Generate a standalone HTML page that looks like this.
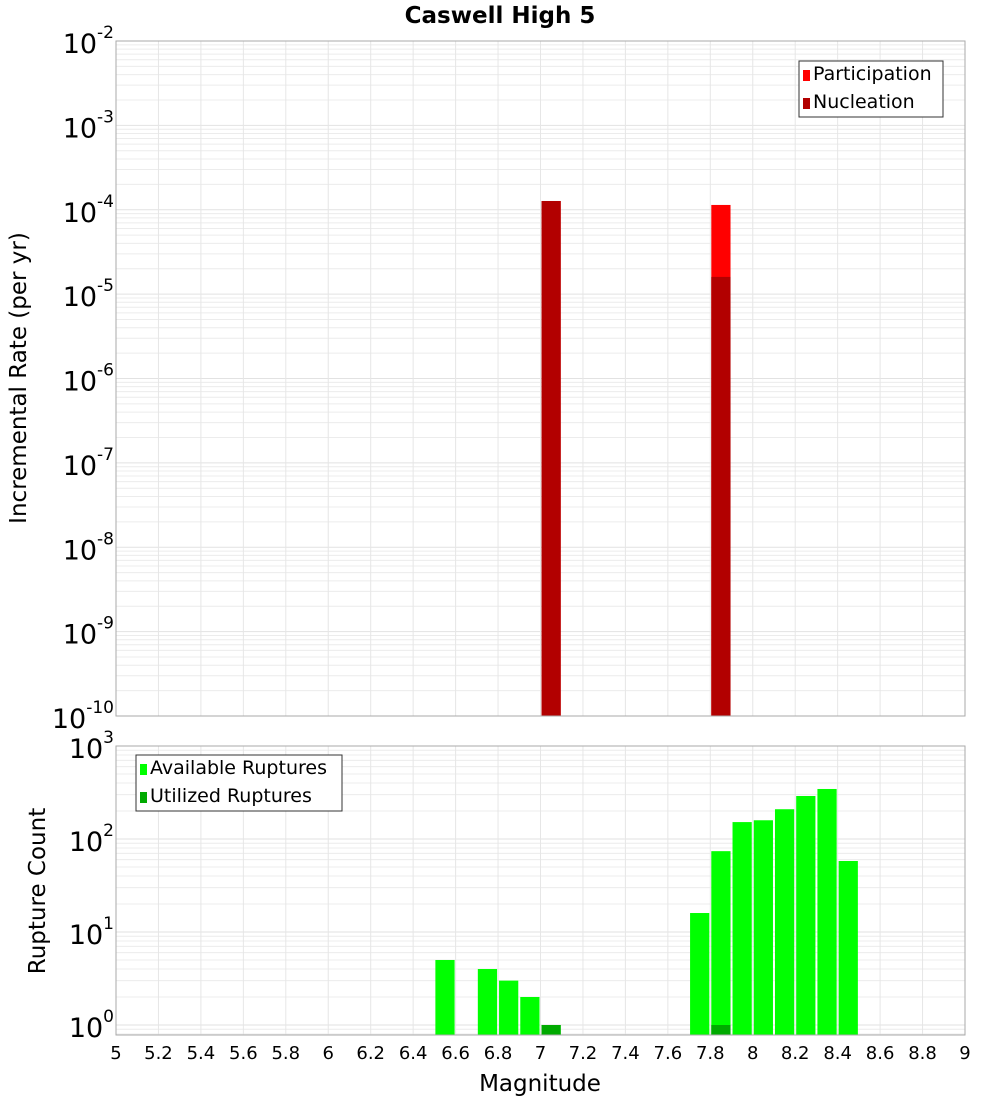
<!DOCTYPE html>
<html><head><meta charset="utf-8"><style>
body{margin:0;background:#fff;font-family:"Liberation Sans","DejaVu Sans",sans-serif;}
svg text{font-family:"DejaVu Sans","Liberation Sans",sans-serif;}
</style></head><body>
<svg id="c" width="1000" height="1100" xmlns="http://www.w3.org/2000/svg"></svg>
<script>
const magBins=[6.55,6.75,6.85,6.95,7.05,7.75,7.85,7.95,8.05,8.15,8.25,8.35,8.45];
const availCounts=[5,4,3,2,1,16,74,152,159,209,290,345,58];
const utilBins=[7.05,7.85];
const utilCounts=[1,1];
const rateBins=[7.05,7.85];
const participation=[1.27e-4,1.14e-4];
const nucleation=[1.27e-4,1.6e-5];
const xTicks=["5","5.2","5.4","5.6","5.8","6","6.2","6.4","6.6","6.8","7","7.2","7.4","7.6","7.8","8","8.2","8.4","8.6","8.8","9"];

const svg=document.getElementById('c');
const NS="http://www.w3.org/2000/svg";
function mk(t,a,p){const e=document.createElementNS(NS,t);for(const k in a)e.setAttribute(k,a[k]);(p||svg).appendChild(e);return e;}
const X0=116,X1=965;
function x(m){return X0+(m-5)/4*(X1-X0);}
const T0=41,T1=716;
function yT(v){return T0+(-2-Math.log10(v))*(T1-T0)/8;}
const B0=746,Bdec=93,B1=1035;
function yB(v){return B0+(3-Math.log10(v))*Bdec;}

function grid(top,bot,lo,hi,yf){
  for(let d=lo;d<hi;d++)for(let k=1;k<10;k++){const yy=yf(k*Math.pow(10,d));if(yy<top-0.5||yy>bot+0.5)continue;
    const l=mk('line',{x1:X0,x2:X1,y1:yy,y2:yy,stroke:k==1?'#e2e2e2':'#ececec','stroke-width':1});
    }
  xTicks.forEach(t=>{const xx=x(+t);const l=mk('line',{x1:xx,x2:xx,y1:top,y2:bot,stroke:'#e6e6e6'});
    });
}
grid(T0,T1,-10,-1,yT);
grid(B0,B1,-1,3,yB);

function bar(m,v,yf,base,col,name){const bx=x(m-0.05)+1,bw=x(m+0.05)-x(m-0.05)-2;const yy=yf(v);
  const r=mk('rect',{x:bx,y:yy,width:bw,height:base-yy,fill:col});
  }
rateBins.forEach((m,i)=>bar(m,participation[i],yT,T1,'#ff0000','participation-bar'));
rateBins.forEach((m,i)=>bar(m,nucleation[i],yT,T1,'#b20000','nucleation-bar'));
magBins.forEach((m,i)=>bar(m,availCounts[i],yB,B1,'#00ff00','available-bar'));
utilBins.forEach((m,i)=>bar(m,utilCounts[i],yB,B1,'#00aa00','utilized-bar'));

function frame(top,bot,name){const r=mk('rect',{x:X0,y:top,width:X1-X0,height:bot-top,fill:'none',stroke:'#aaa'});
  }
frame(T0,T1,'top-plot-area');frame(B0,B1,'bottom-plot-area');

function ylab(exp,yy,name){const t=mk('text',{x:114,y:yy+12,'text-anchor':'end','font-size':27,fill:'#000'});
  
  t.textContent='10';const s=mk('tspan',{dy:-15,'font-size':17},t);s.textContent=exp;}
for(let e=-2;e>=-10;e--)ylab(String(e),yT(Math.pow(10,e)),'y-tick-label');
for(let e=3;e>=0;e--)ylab(String(e),yB(Math.pow(10,e)),'y-tick-label');

xTicks.forEach(t=>{const tx=mk('text',{x:x(+t),y:1059,'text-anchor':'middle','font-size':18});
  tx.textContent=t;});

function txt(s,a,name){const t=mk('text',a);t.textContent=s;return t;}
txt('Caswell High 5',{x:500,y:23,'text-anchor':'middle','font-size':23,'font-weight':'bold'},'chart-title');
txt('Magnitude',{x:540,y:1091,'text-anchor':'middle','font-size':23},'x-axis-title');
txt('Incremental Rate (per yr)',{x:0,y:0,'text-anchor':'middle','font-size':23,transform:'translate(26,378) rotate(-90)'},'y-axis-title');
txt('Rupture Count',{x:0,y:0,'text-anchor':'middle','font-size':23,transform:'translate(45,891) rotate(-90)'},'y-axis-title-bottom');

function legend(lx,ly,w,items,name){const g=mk('g',{});
  mk('rect',{x:lx,y:ly,width:w,height:56,fill:'#fff',stroke:'#333'},g);
  items.forEach((it,i)=>{const r=mk('rect',{x:lx+4,y:ly+9+i*28,width:7,height:11,fill:it[1]},g);
    
    const t=mk('text',{x:lx+14,y:ly+19+i*28,'font-size':19},g);t.textContent=it[0];
    });}
legend(799,61,144,[['Participation','#ff0000'],['Nucleation','#b20000']],'top-legend');
legend(136,755,206,[['Available Ruptures','#00ff00'],['Utilized Ruptures','#00aa00']],'bottom-legend');
</script>
</body></html>
